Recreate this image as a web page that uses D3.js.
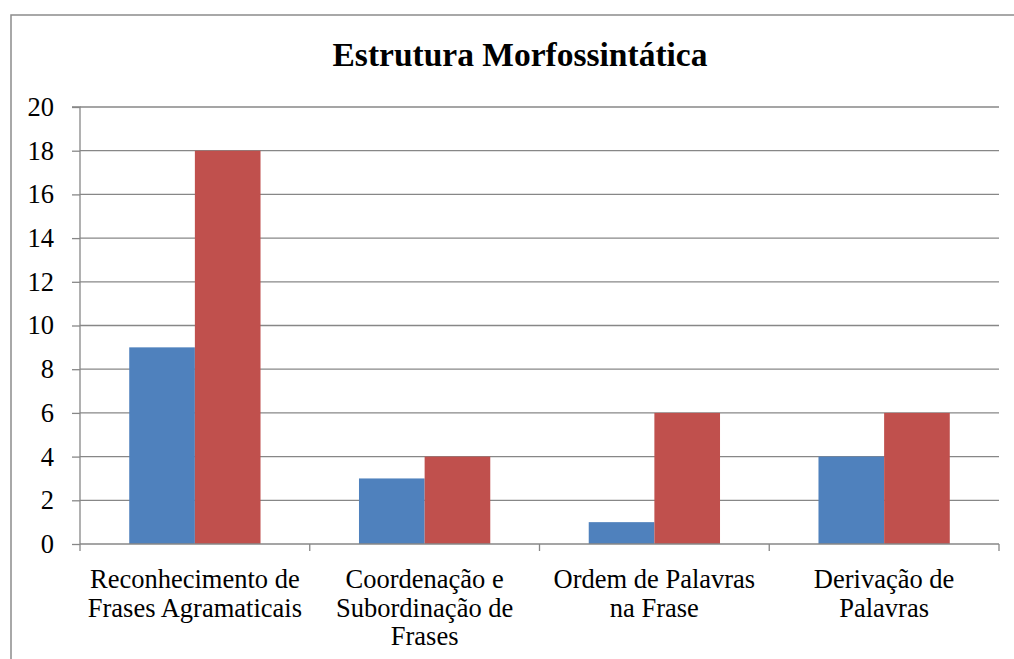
<!DOCTYPE html>
<html><head><meta charset="utf-8">
<script src="https://cdn.jsdelivr.net/npm/d3@7"></script>
<style>
body{margin:0;background:#fff}svg{display:block}
.lbl{font-family:"Liberation Serif","Times New Roman",Tinos,serif;font-size:26.5px;fill:#000;}
.ttl{font-family:"Liberation Serif","Times New Roman",Tinos,serif;font-size:33.5px;font-weight:bold;fill:#000;}
</style>
</head><body>
<svg id="c" width="1014" height="659"></svg>
<script>
const categories = [["Reconhecimento de","Frases Agramaticais"],["Coordenação e","Subordinação de","Frases"],["Ordem de Palavras","na Frase"],["Derivação de","Palavras"]];
const seriesA = [9, 3, 1, 4];
const seriesB = [18, 4, 6, 6];
const yTicks = [0,2,4,6,8,10,12,14,16,18,20];
const title = "Estrutura Morfossintática";

const svg = d3.select("#c");
svg.append("rect").attr("x",11).attr("y",15).attr("width",1020).attr("height",660)
  .attr("fill","#fff").attr("stroke","#8c8c8c").attr("stroke-width",1.5);

const L=80,R=999,T=107,B=544;
const x = d3.scaleBand().domain(d3.range(categories.length)).range([L,R]).paddingInner(0).paddingOuter(0);
const y = d3.scaleLinear().domain([0,20]).range([B,T]);

const g = svg.append("g");
g.selectAll("line.grid").data(yTicks.filter(d=>d>0)).join("line")
  .attr("x1",L).attr("x2",R).attr("y1",d=>y(d)).attr("y2",d=>y(d))
  .attr("stroke","#878787").attr("stroke-width",1.3);
const bw = x.bandwidth()/3.5;
const off = (x.bandwidth()-2*bw)/2;
[seriesA,seriesB].forEach((s,si)=>{
  g.selectAll("rect.s"+si).data(s).join("rect")
    .attr("x",(d,i)=>x(i)+off+si*bw).attr("width",bw)
    .attr("y",d=>y(d)).attr("height",d=>y(0)-y(d))
    .attr("fill",si?"#C0504D":"#4F81BD");
});
const ya = d3.axisLeft(y).tickValues(yTicks).tickSize(8).tickPadding(18);
const yg = svg.append("g").attr("transform",`translate(${L},0)`).call(ya);
yg.attr("font-family",null).attr("font-size",null);
yg.select(".domain").attr("stroke","#878787").attr("stroke-width",1.3).attr("d",`M-8,${T}H0V${B}`);
yg.selectAll(".tick line").attr("stroke","#878787").attr("stroke-width",1.3);
yg.selectAll("text").attr("class","lbl").attr("fill",null);
svg.append("line").attr("x1",L).attr("x2",R).attr("y1",B).attr("y2",B).attr("stroke","#878787").attr("stroke-width",1.3);
const xt = d3.range(categories.length+1).map(i=>L+i*x.bandwidth());
svg.selectAll("line.xt").data(xt).join("line").attr("x1",d=>d).attr("x2",d=>d).attr("y1",B).attr("y2",B+7)
  .attr("stroke","#878787").attr("stroke-width",1.3);

categories.forEach((lines,i)=>{
  const t = svg.append("text").attr("class","lbl").attr("text-anchor","middle");
  lines.forEach((ln,j)=>t.append("tspan").attr("x",x(i)+x.bandwidth()/2).attr("y",588+j*28.5).text(ln));
});

svg.append("text").attr("class","ttl").attr("x",520).attr("y",66).attr("text-anchor","middle").text(title);
</script>
</body></html>
